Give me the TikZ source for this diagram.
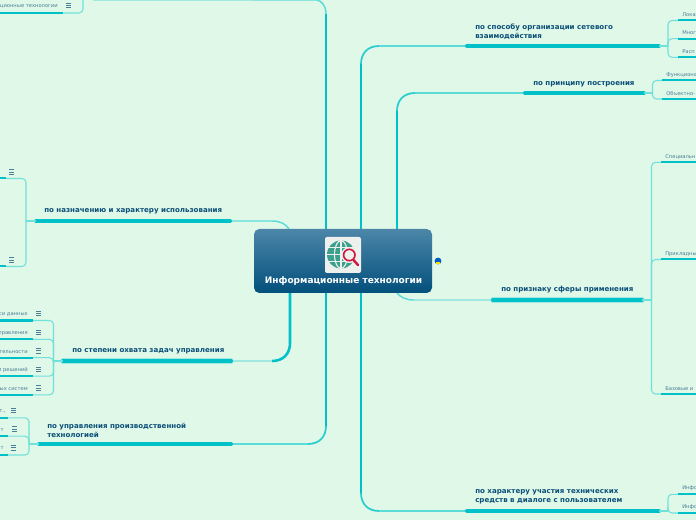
\documentclass[tikz,border=0pt]{standalone}
\usepackage{fontspec}
\setmainfont{DejaVu Sans}
\definecolor{bgc}{HTML}{E0F8E8}
\definecolor{teal1}{HTML}{00C0C8}
\definecolor{tealmid}{HTML}{5CDCD8}
\definecolor{teallight}{HTML}{A0E8E0}
\definecolor{inkdark}{HTML}{0A4F78}
\definecolor{inksoft}{HTML}{4A7D96}
\definecolor{rtop}{HTML}{4C86A8}
\definecolor{rbot}{HTML}{02507C}
\definecolor{globec}{HTML}{3AA08C}
\definecolor{lensc}{HTML}{D0143C}
\definecolor{tilec}{HTML}{EEF0EE}
\tikzset{
  x=0.75pt,y=-0.75pt,
  barline/.style={line width=3pt,line cap=round,teal1},
  barhalo/.style={line width=4.2pt,line cap=round,teallight},
  trunk/.style={line width=1.9pt,teal1},
  bendline/.style={line width=1.3pt,teal1!55!tealmid},
  curveline/.style={line width=1.1pt,tealmid},
  paleline/.style={line width=1.5pt,teallight},
  leafline/.style={line width=0.8pt,tealmid!85!bgc},
  leafbar/.style={line width=1.5pt,teal1},
  btext/.style={font=\bfseries\fontsize{5.3}{6.7}\selectfont,text=inkdark,anchor=west,align=left,inner sep=0pt},
  ltext/.style={font=\fontsize{3.9}{5}\selectfont,text=inksoft,inner sep=0pt},
  menuline/.style={line width=0.7pt,inksoft},
  gridline/.style={line width=0.85pt,tilec},
  menuicon/.pic={
    \draw[menuline] (-2.5,-2.2) -- (2.5,-2.2);
    \draw[menuline] (-2.5,0) -- (2.5,0);
    \draw[menuline] (-2.5,2.2) -- (2.5,2.2);
  },
}
\begin{document}
\begin{tikzpicture}
\useasboundingbox (0,0) rectangle (696,520);
\clip (0,0) rectangle (696,520);
\fill[bgc] (0,0) rectangle (696,520);

% root coordinates
\coordinate (rA) at (326,229); \coordinate (rB) at (289,229);
\coordinate (rC) at (290,293); \coordinate (rD) at (326,293);
\coordinate (rE) at (361,229); \coordinate (rF) at (397,229);
\coordinate (rG) at (397,293); \coordinate (rH) at (361,293);

% bars
\coordinate (bAl) at (93,0);    \coordinate (bAr) at (253,0);
\coordinate (bBl) at (36,221);  \coordinate (bBr) at (230,221);
\coordinate (bCl) at (63,361);  \coordinate (bCr) at (231,361);
\coordinate (bDl) at (39,444);  \coordinate (bDr) at (231,444);
\coordinate (bEl) at (467,46);  \coordinate (bEr) at (659,46);
\coordinate (bFl) at (525,93);  \coordinate (bFr) at (644,93);
\coordinate (bGl) at (493,300); \coordinate (bGr) at (642,300);
\coordinate (bHl) at (467,511); \coordinate (bHr) at (659,511);

% top-left branch (runs off the page)
\draw[trunk] (rA) -- (326,14);
\draw[curveline] (326,14) .. controls (326,6) and (322,1) .. (317,0) -- (bAr);
\draw[paleline] (bAr) -- (bAl);

% left branches
\draw[curveline] (bBr) -- (272,221) .. controls (280,221) and (286,224) .. (rB);
\draw[trunk] (rC) -- (290,343) .. controls (290,354) and (283,361) .. (272,361);
\draw[paleline] (272,361) -- (bCr);
\draw[trunk] (rD) -- (326,426);
\draw[bendline] (326,426) .. controls (326,437) and (319,444) .. (308,444);
\draw[curveline] (308,444) -- (bDr);

% right branches
\draw[trunk] (rE) -- (361,64);
\draw[bendline] (361,64) .. controls (361,53) and (368,46) .. (379,46);
\draw[curveline] (379,46) -- (bEl);
\draw[trunk] (rF) -- (397,111);
\draw[bendline] (397,111) .. controls (397,100) and (404,93) .. (415,93);
\draw[curveline] (415,93) -- (bFl);
\draw[curveline] (rG) .. controls (400,297) and (406,300) .. (414,300);
\draw[paleline] (414,300) -- (bGl);
\draw[trunk] (rH) -- (361,493);
\draw[bendline] (361,493) .. controls (361,504) and (368,511) .. (379,511);
\draw[curveline] (379,511) -- (bHl);

\draw[barhalo] (bCl) -- (bCr);
\draw[barhalo] (bGl) -- (bGr);
\foreach \s in {B,C,D,E,F,G,H} {\draw[barline] (b\s l) -- (b\s r);}

% branch labels
\node[btext] (tB) at (44,211.5) {по назначению и характеру использования};
\node[btext] (tC) at (72,351) {по степени охвата задач управления};
\node[btext,anchor=north west] (tD) at (47,422.5) {по управления производственной\\технологией};
\node[btext,anchor=north west] (tE) at (475,24) {по способу организации сетевого\\взаимодействия};
\node[btext] (tF) at (533,84) {по принципу построения};
\node[btext] (tG) at (501,290) {по признаку сферы применения};
\node[btext,anchor=north west] (tH) at (475,489.5) {по характеру участия технических\\средств в диалоге с пользователем};

% ---- leaves: top-left
\draw[leafline,rounded corners=3pt] (83,0) |- (63,13);
\draw[leafbar] (0,13) -- (63,13);
\node[ltext,anchor=east] (l1) at (58,6.5) {ционные технологии};
\pic at (68.5,5.5) {menuicon};

% ---- leaves: назначение
\coordinate (jB) at (26,221);
\draw[leafline] (bBl) -- (jB);
\draw[leafline,rounded corners=3pt] (jB) |- (6,178.5);
\draw[leafline,rounded corners=3pt] (jB) |- (6,266.5);
\draw[leafbar] (0,178.5) -- (6,178.5);
\draw[leafbar] (0,266.5) -- (6,266.5);
\pic at (11.5,172) {menuicon};
\pic at (11.5,260) {menuicon};

% ---- leaves: степень охвата
\coordinate (jC) at (53.5,361);
\draw[leafline] (bCl) -- (jC);
\foreach \y/\t/\n in {320.5/си данных/a,339.3/правления/b,357.7/тельности/c,376.2/и решений/d,394.8/ых систем/e}{
  \draw[leafline,rounded corners=3pt] (jC) |- (33,\y);
  \draw[leafbar] (0,\y) -- (33,\y);
  \node[ltext,anchor=east] (lc\n) at (28,\y-5.7) {\t};
  \pic at (38.5,\y-6.8) {menuicon};
}

% ---- leaves: производственной
\coordinate (jD) at (29,444);
\draw[leafline] (bDl) -- (jD);
\foreach \y/\t/\ix/\tx/\n in {417.8/{т.,}/13.3/6/a,436.2/т/14.3/4/b,455/т/13.3/4/c}{
  \draw[leafline,rounded corners=3pt] (jD) |- (8,\y);
  \draw[leafbar] (0,\y) -- (8,\y);
  \node[ltext,anchor=east] (ld\n) at (\tx,\y-6.5) {\t};
  \pic at (\ix,\y-7.2) {menuicon};
}

% ---- leaves: сетевое
\coordinate (jE) at (668,46);
\draw[leafline] (bEr) -- (jE);
\foreach \y/\t/\n in {20.5/Лока/a,38.7/Мног/b,57.3/Расп/c}{
  \draw[leafline,rounded corners=3pt] (jE) |- (678,\y);
  \draw[leafbar] (678,\y) -- (696,\y);
  \node[ltext,anchor=west] (le\n) at (682,\y-5.7) {\t};
}

% ---- leaves: построение
\coordinate (jF) at (652.5,93);
\draw[leafline] (bFr) -- (jF);
\foreach \y/\t/\n in {80.5/Функциона/a,99/Объектно-/b}{
  \draw[leafline,rounded corners=3pt] (jF) |- (662,\y);
  \draw[leafbar] (662,\y) -- (696,\y);
  \node[ltext,anchor=west] (lf\n) at (666,\y-5.7) {\t};
}

% ---- leaves: сфера применения
\coordinate (jG) at (651.5,300);
\draw[leafline] (bGr) -- (jG);
\foreach \y/\t/\n in {162.3/Специальн/a,259.5/Прикладны/b,394/Базовые и/c}{
  \draw[leafline,rounded corners=3pt] (jG) |- (661,\y);
  \draw[leafbar] (661,\y) -- (696,\y);
  \node[ltext,anchor=west] (lg\n) at (665,\y-5.7) {\t};
}

% ---- leaves: диалог
\coordinate (jH) at (668,511);
\draw[leafline] (bHr) -- (jH);
\foreach \y/\t/\n in {494.3/Инфо/a,513/Инфо/b}{
  \draw[leafline,rounded corners=3pt] (jH) |- (678,\y);
  \draw[leafbar] (678,\y) -- (696,\y);
  \node[ltext,anchor=west] (lh\n) at (682,\y-5.7) {\t};
}

% root
\node[draw=none,rounded corners=4pt,top color=rtop,bottom color=rbot,minimum width=133.5pt,minimum height=48pt,inner sep=0pt] (root) at (343,261) {};
\node[font=\bfseries\fontsize{6.75}{9}\selectfont,text=white,inner sep=0pt] (title) at (343.5,281.5) {Информационные технологии};

% icon
\fill[rounded corners=1.5pt,tilec] (325,237) rectangle (361,273);
\fill[globec] (341,254.5) circle (14*0.75pt);
\draw[gridline] (341,240) -- (341,269);
\draw[gridline] (341,254.5) ellipse (6.5*0.75pt and 14*0.75pt);
\draw[gridline] (326,254.5) -- (356,254.5);
\draw[gridline] (328,247.5) -- (354,247.5);
\draw[gridline] (328,261.5) -- (354,261.5);
\fill[tilec] (349.3,255) circle (8*0.75pt);
\draw[lensc,line width=1.2pt] (349.3,255) circle (5.7*0.75pt);
\draw[lensc,line width=1.8pt,line cap=round] (353.5,260) -- (358,265);

% small marker beside the root
\fill[blue!55!cyan!80!black] (438,261) circle (3.4*0.75pt);
\fill[yellow!80!orange] (436,262.5) rectangle (440,264);
\end{tikzpicture}
\end{document}
